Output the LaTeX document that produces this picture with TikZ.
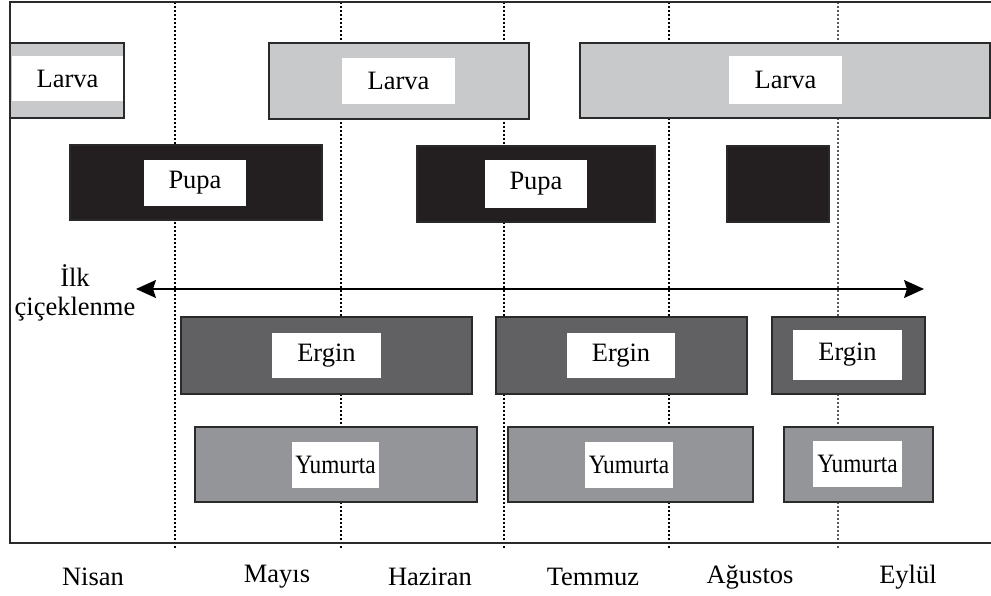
\documentclass[tikz,border=0pt]{standalone}
\usepackage{fontspec}
\setmainfont{Liberation Serif}
\newfontfamily\condfont[FakeStretch=0.88]{Liberation Serif}
\usetikzlibrary{arrows.meta}
\definecolor{larvac}{HTML}{C8C9CB}
\definecolor{pupac}{HTML}{231F20}
\definecolor{erginc}{HTML}{616163}
\definecolor{yumc}{HTML}{939598}
\definecolor{framec}{HTML}{2A2A2A}
\begin{document}
\begin{tikzpicture}[x=1pt,y=-1pt,
  every node/.style={font=\fontsize{26.5}{29}\selectfont, inner sep=0pt, outer sep=0pt},
  bar/.style={draw=framec, line width=1.3pt, rectangle},
  larvabar/.style={bar, fill=larvac},
  pupabar/.style={bar, fill=pupac},
  erginbar/.style={bar, fill=erginc},
  yumbar/.style={bar, fill=yumc},
  lab/.style={fill=white, rectangle, text=black},
  yumlab/.style={lab, font=\condfont\fontsize{26.5}{29}\selectfont},
  monthline/.style={line width=2.2pt, dash pattern=on 2pt off 2pt, black},
  monthlinelight/.style={line width=1.4pt, dash pattern=on 2pt off 2pt, black!65},
  month/.style={anchor=center},
]
\useasboundingbox (0,0) rectangle (991,596);

% month separators
\foreach \xx/\nm in {175/a,341/b,504/c,669/d}{
  \coordinate (top\nm) at (\xx,2);
  \coordinate (bot\nm) at (\xx,548);
  \draw[monthline] (top\nm) -- (bot\nm);
}
\coordinate (tope) at (838,2);
\coordinate (bote) at (838,548);
\draw[monthlinelight] (tope) -- (bote);

% frame
\coordinate (fTR) at (991,2);
\coordinate (fTL) at (10,2);
\coordinate (fBL) at (10,543);
\coordinate (fBR) at (991,543);
\draw[framec, line width=2.5pt] (fTR) -- (fTL) -- (fBL) -- (fBR);

% Larva
\node[larvabar, minimum width=114pt, minimum height=75pt] (L1) at (67,80.5) {};
\node[lab, minimum width=111pt, minimum height=45pt] (L1t) at (67.5,78.5) {Larva};
\node[larvabar, minimum width=260pt, minimum height=76pt] (L2) at (399,81) {};
\node[lab, minimum width=113pt, minimum height=46pt] (L2t) at (398.5,81) {Larva};
\node[larvabar, minimum width=410pt, minimum height=75pt] (L3) at (785,80.5) {};
\node[lab, minimum width=113pt, minimum height=48pt] (L3t) at (785.5,80) {Larva};

% Pupa
\node[pupabar, minimum width=252pt, minimum height=75pt] (P1) at (196,182.5) {};
\node[lab, minimum width=102pt, minimum height=46pt] (P1t) at (195,183) {Pupa};
\node[pupabar, minimum width=238pt, minimum height=76pt] (P2) at (536,184) {};
\node[lab, minimum width=102pt, minimum height=48pt] (P2t) at (536,184) {Pupa};
\node[pupabar, minimum width=102pt, minimum height=76pt] (P3) at (778,184) {};

% flowering arrow
\node[align=center] (ilk) at (75,293) {İlk\\çiçeklenme};
\coordinate (arL) at (136,289);
\coordinate (arR) at (924,289);
\draw[line width=1.4pt, {Stealth[length=20pt,width=18pt,inset=3pt]}-{Stealth[length=20pt,width=18pt,inset=3pt]}] (arL) -- (arR);

% Ergin
\node[erginbar, minimum width=291pt, minimum height=77pt] (E1) at (326.5,355.5) {};
\node[lab, minimum width=109pt, minimum height=45pt] (E1t) at (326.5,355.5) {Ergin};
\node[erginbar, minimum width=251pt, minimum height=77pt] (E2) at (621.5,355.5) {};
\node[lab, minimum width=108pt, minimum height=45pt] (E2t) at (621,355.5) {Ergin};
\node[erginbar, minimum width=153pt, minimum height=77pt] (E3) at (848.5,355.5) {};
\node[lab, minimum width=109pt, minimum height=50pt] (E3t) at (847.5,355) {Ergin};

% Yumurta
\node[yumbar, minimum width=282pt, minimum height=75pt] (Y1) at (336,464.5) {};
\node[yumlab, minimum width=87pt, minimum height=46pt] (Y1t) at (335.5,465) {Yumurta};
\node[yumbar, minimum width=245pt, minimum height=75pt] (Y2) at (630.5,464.5) {};
\node[yumlab, minimum width=88pt, minimum height=46pt] (Y2t) at (629,465) {Yumurta};
\node[yumbar, minimum width=149pt, minimum height=75pt] (Y3) at (858.5,464.5) {};
\node[yumlab, minimum width=89pt, minimum height=46pt] (Y3t) at (857.5,464) {Yumurta};

% months
\node[month] (m1) at (93,577) {Nisan};
\node[month] (m2) at (277,577) {Mayıs};
\node[month] (m3) at (430,577) {Haziran};
\node[month] (m4) at (593,577) {Temmuz};
\node[month] (m5) at (750,577) {Ağustos};
\node[month] (m6) at (908,577) {Eylül};
\end{tikzpicture}
\end{document}
